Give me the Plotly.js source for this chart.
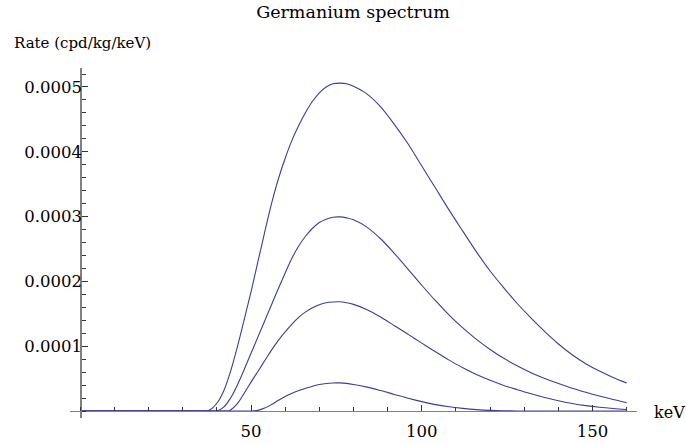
<!DOCTYPE html>
<html>
<head>
<meta charset="utf-8">
<script src="https://cdn.plot.ly/plotly-3.0.1.min.js"></script>
<style>html,body{margin:0;padding:0;background:#fff;}#chart{width:686px;height:444px;}</style>
</head>
<body>
<div id="chart"></div>
<script>
// Energies (keV) and rates (cpd/kg/keV), one curve each
const energyA = [0, 34.5, 36.5, 38, 40, 42, 44, 46, 48, 50, 52, 54, 56, 58, 60, 62, 64, 66, 68, 70, 72, 74, 76, 78, 80, 84, 88, 92, 96, 100, 104, 108, 112, 116, 120, 124, 128, 132, 136, 140, 144, 148, 152, 156, 160];
const rateA   = [0, 0, 0, 0.000002, 0.000012, 0.000031, 0.000061, 0.000099, 0.000141, 0.000184, 0.000230, 0.000276, 0.000320, 0.000358, 0.000390, 0.000418, 0.000441, 0.000461, 0.000478, 0.000491, 0.000500, 0.000505, 0.000506, 0.000505, 0.000501, 0.000489, 0.000469, 0.000442, 0.000412, 0.000378, 0.000344, 0.000310, 0.0002775, 0.0002455, 0.000216, 0.000190, 0.0001655, 0.0001432, 0.0001224, 0.0001034, 0.0000868, 0.000073, 0.0000616, 0.0000518, 0.0000432];

const energyB = [0, 38, 40, 42, 44, 46, 48, 50, 52, 54, 56, 58, 60, 62, 64, 66, 68, 70, 72, 74, 76, 78, 80, 84, 88, 92, 96, 100, 104, 108, 112, 116, 120, 124, 128, 132, 136, 140, 144, 148, 152, 156, 160];
const rateB   = [0, 0, 0, 0.000006, 0.000020, 0.000040, 0.000064, 0.000089, 0.000114, 0.000139, 0.000164, 0.000189, 0.000213, 0.000236, 0.000255, 0.000270, 0.000282, 0.000291, 0.000296, 0.000299, 0.0002995, 0.000298, 0.000295, 0.0002834, 0.0002654, 0.000243, 0.0002186, 0.000194, 0.0001702, 0.0001481, 0.0001282, 0.0001105, 0.000095, 0.0000813, 0.0000695, 0.0000592, 0.0000502, 0.0000423, 0.0000352, 0.0000289, 0.0000231, 0.0000177, 0.0000127];

const energyC = [0, 41.5, 43.5, 44, 46, 48, 50, 52, 54, 56, 58, 60, 62, 64, 66, 68, 70, 72, 74, 76, 78, 80, 84, 88, 92, 96, 100, 104, 108, 112, 116, 120, 124, 128, 132, 136, 140, 144, 148, 152, 156, 160];
const rateC   = [0, 0, 0, 0.0000015, 0.0000115, 0.0000275, 0.0000445, 0.000061, 0.0000775, 0.000094, 0.000109, 0.000122, 0.000134, 0.000145, 0.000153, 0.0001595, 0.000164, 0.000167, 0.0001683, 0.0001685, 0.000167, 0.0001645, 0.0001563, 0.0001447, 0.0001317, 0.0001183, 0.0001047, 0.0000913, 0.0000785, 0.0000667, 0.0000563, 0.0000473, 0.0000395, 0.0000329, 0.0000266, 0.0000209, 0.0000159, 0.0000117, 0.0000083, 0.0000057, 0.0000038, 0.0000024];

const energyD = [0, 48, 50, 52, 54, 56, 58, 60, 62, 64, 66, 68, 70, 72, 74, 76, 78, 80, 84, 88, 92, 96, 100, 104, 108, 112, 116, 120, 124, 128, 132, 136, 160];
const rateD   = [0, 0, 0, 0.000001, 0.0000045, 0.000010, 0.0000165, 0.0000225, 0.0000275, 0.0000315, 0.000035, 0.0000383, 0.0000408, 0.0000425, 0.0000433, 0.0000434, 0.0000426, 0.000041, 0.0000369, 0.0000315, 0.0000256, 0.0000198, 0.0000145, 0.0000099, 0.0000065, 0.000004, 0.0000021, 0.0000009, 0.0000003, 0.00000005, 0, 0, 0];

const xTickVals = [50, 100, 150];
const yTickVals = [0.0001, 0.0002, 0.0003, 0.0004, 0.0005];
const yTickText = ['0.0001', '0.0002', '0.0003', '0.0004', '0.0005'];

const xRange = [-3, 163];
const yRange = [-0.0000108, 0.0005293];

const lineColor = '#3d3d99';
const serif = 'DejaVu Serif';

const curves = [[energyA, rateA], [energyB, rateB], [energyC, rateC], [energyD, rateD]];
const traces = curves.map(function (c) {
  return {
    x: c[0], y: c[1], type: 'scatter', mode: 'lines',
    line: {color: lineColor, width: 1.1, shape: 'spline', smoothing: 1},
    hoverinfo: 'skip', showlegend: false
  };
});

const plotL = 70, plotT = 68, plotW = 567, plotH = 350;

const layout = {
  width: 686, height: 444,
  margin: {l: plotL, r: 686 - plotL - plotW, t: plotT, b: 444 - plotT - plotH, pad: 0},
  paper_bgcolor: '#fff', plot_bgcolor: '#fff',
  showlegend: false,
  font: {family: serif},
  title: {
    text: 'Germanium spectrum',
    font: {family: serif, size: 17.5, color: '#000'},
    x: 353 / 686, xref: 'container', xanchor: 'center',
    y: 1 - 12 / 444, yref: 'container', yanchor: 'middle'
  },
  xaxis: {
    range: xRange, anchor: 'free',
    position: (0 - yRange[0]) / (yRange[1] - yRange[0]),
    showline: true, linecolor: '#808080', linewidth: 1.3,
    showgrid: false, zeroline: false,
    tickmode: 'array', tickvals: xTickVals,
    ticks: 'inside', ticklen: 6, tickwidth: 1, tickcolor: '#333',
    minor: {tickmode: 'linear', tick0: 0, dtick: 10, ticks: 'inside', ticklen: 4, tickwidth: 1, tickcolor: '#333', showgrid: false},
    tickfont: {family: serif, size: 16.5, color: '#000'},
    ticklabelstandoff: 5
  },
  yaxis: {
    range: yRange, anchor: 'free',
    position: (0 - xRange[0]) / (xRange[1] - xRange[0]),
    showline: true, linecolor: '#808080', linewidth: 1.3,
    showgrid: false, zeroline: false,
    tickmode: 'array', tickvals: yTickVals, ticktext: yTickText,
    ticks: 'inside', ticklen: 6, tickwidth: 1, tickcolor: '#333',
    minor: {tickmode: 'linear', tick0: 0, dtick: 0.00002, ticks: 'inside', ticklen: 4, tickwidth: 1, tickcolor: '#333', showgrid: false},
    tickfont: {family: serif, size: 16.5, color: '#000'},
    ticklabelstandoff: -5
  },
  annotations: [
    {text: 'Rate (cpd/kg/keV)', xref: 'paper', yref: 'paper',
     x: (12 - plotL) / plotW, y: (plotT + plotH - 43) / plotH,
     xanchor: 'left', yanchor: 'middle', showarrow: false,
     font: {family: serif, size: 15, color: '#000'}},
    {text: 'keV', xref: 'paper', yref: 'paper',
     x: (652 - plotL) / plotW, y: (plotT + plotH - 412) / plotH,
     xanchor: 'left', yanchor: 'middle', showarrow: false,
     font: {family: serif, size: 16, color: '#000'}}
  ]
};

Plotly.newPlot('chart', traces, layout, {displayModeBar: false, staticPlot: true});
</script>
</body>
</html>
